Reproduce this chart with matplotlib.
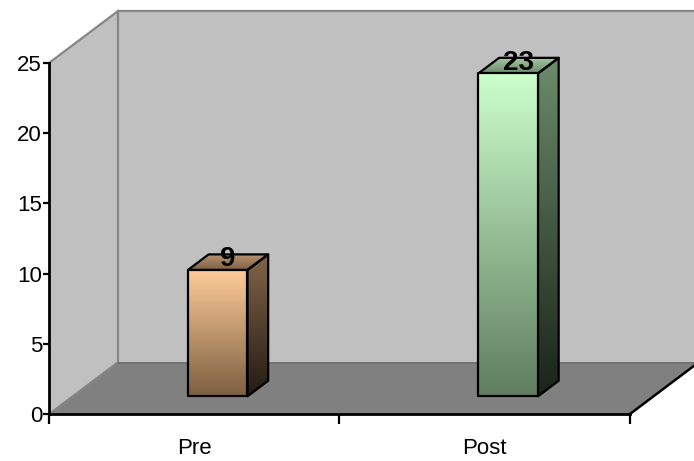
import numpy as np
import matplotlib
matplotlib.use('agg')
import matplotlib.pyplot as plt
from matplotlib.patches import Polygon
from matplotlib.colors import to_rgb

plt.rcParams['font.family'] = ['Liberation Sans', 'DejaVu Sans']

# chart data
categories = ['Pre', 'Post']
values = [9, 23]
y_ticks = [0, 5, 10, 15, 20, 25]

# face colours per bar: front (top, bottom), side (top, bottom), top face
front_cols = [('#FFCC99', '#7D5F41'), ('#CCFFCC', '#607D60')]
side_cols = [('#826549', '#231B13'), ('#6C8C6C', '#1A231A')]
top_cols = [('#B89572', '#7E5F40'), ('#A6C8A6', '#6A8E6A')]

# oblique depth of the plot box, in data units
DX, DY = 0.2375, 3.70
BAR_W = 0.205
BAR_F0 = 0.34    # fraction of depth where the bar's front face sits
BAR_FD = 0.30    # bar depth as fraction of box depth

fig = plt.figure(figsize=(6.94, 4.61), dpi=100)
ax = fig.add_axes([49 / 694, 47 / 461, 645 / 694, 414 / 461])
ax.set_xlim(0, 645 / 290.5)
ax.set_ylim(0, 414 / 14.04)

ncat = len(categories)
ymax = y_ticks[-1]
wall_edge = '#868686'

# back wall, side wall and floor
ax.add_patch(Polygon([(DX, DY), (ncat + DX + 0.1, DY), (ncat + DX + 0.1, ymax + DY), (DX, ymax + DY)],
                     facecolor='#C0C0C0', edgecolor='none', zorder=1))
ax.add_patch(Polygon([(0, 0), (0, ymax), (DX, ymax + DY), (DX, DY)],
                     facecolor='#C0C0C0', edgecolor='none', zorder=1))
ax.add_patch(Polygon([(0, 0), (ncat, 0), (ncat + DX, DY), (DX, DY)],
                     facecolor='#808080', edgecolor='none', zorder=2))
ax.plot([DX, DX], [DY, ymax + DY], color=wall_edge, lw=1.6, zorder=3, solid_capstyle='projecting')
ax.plot([DX, ncat + DX + 0.1], [ymax + DY, ymax + DY], color=wall_edge, lw=1.6, zorder=3)
ax.plot([0, DX], [ymax, ymax + DY], color=wall_edge, lw=1.6, zorder=3)
ax.plot([0, DX], [0, DY], color=wall_edge, lw=1.4, zorder=3)
ax.plot([DX, ncat + DX + 0.1], [DY - 0.1, DY - 0.1], color='#6E6E6E', lw=1.2, zorder=3)
ax.plot([ncat, ncat + DX], [0, DY], color='black', lw=1.8, zorder=4, solid_capstyle='projecting')


def gradient(c_top, c_bot, n=128):
    a, b = np.array(to_rgb(c_top)), np.array(to_rgb(c_bot))
    t = np.linspace(0, 1, n)[:, None]
    return (a * (1 - t) + b * t)[:, None, :]


def shade(poly_pts, c_top, c_bot, extent, z):
    poly = Polygon(poly_pts, facecolor='none', edgecolor='none', zorder=z)
    ax.add_patch(poly)
    im = ax.imshow(gradient(c_top, c_bot), extent=extent, aspect='auto',
                   interpolation='bilinear', zorder=z)
    im.set_clip_path(poly)
    ax.add_patch(Polygon(poly_pts, facecolor='none', edgecolor='black', lw=1.6,
                         joinstyle='round', zorder=z + 0.5))


for i, (cat, val) in enumerate(zip(categories, values)):
    xc = i + 0.5
    bdx, bdy = DX * BAR_FD, DY * BAR_FD
    x0 = xc - BAR_W / 2 + DX * BAR_F0
    x1 = x0 + BAR_W
    y0 = DY * BAR_F0
    y1 = y0 + val
    # side face
    side = [(x1, y0), (x1 + bdx, y0 + bdy), (x1 + bdx, y1 + bdy), (x1, y1)]
    shade(side, *side_cols[i], (x1, x1 + bdx, y0, y1 + bdy), 5)
    # top face
    top = [(x0, y1), (x1, y1), (x1 + bdx, y1 + bdy), (x0 + bdx, y1 + bdy)]
    shade(top, *top_cols[i], (x0, x1 + bdx, y1, y1 + bdy), 5)
    # front face
    front = [(x0, y0), (x1, y0), (x1, y1), (x0, y1)]
    shade(front, *front_cols[i], (x0, x1, y0, y1), 6)
    ax.text(xc + DX * (BAR_F0 + BAR_FD / 2), y1 + bdy / 2 + 0.2, str(val),
            ha='center', va='center', fontsize=20, fontweight='bold', zorder=8)

# front axes
for s in ['top', 'right']:
    ax.spines[s].set_visible(False)
ax.spines['left'].set_bounds(0, ymax)
ax.spines['bottom'].set_bounds(0, ncat)
for s in ['left', 'bottom']:
    ax.spines[s].set_linewidth(2.0)
    ax.spines[s].set_zorder(7)
ax.set_yticks(y_ticks)
ax.set_yticklabels([str(t) for t in y_ticks])
ax.tick_params(axis='y', direction='out', length=4, width=1.6, labelsize=16, pad=1)
ax.set_xticks(np.arange(ncat + 1))
ax.set_xticklabels([])
ax.tick_params(axis='x', which='major', direction='out', length=7, width=1.6)
ax.set_xticks(np.arange(ncat) + 0.5, minor=True)
ax.set_xticklabels(categories, minor=True)
ax.tick_params(axis='x', which='minor', length=0, labelsize=16, pad=17)
ax.set_facecolor('none')

fig.savefig('out.png', dpi=100)
